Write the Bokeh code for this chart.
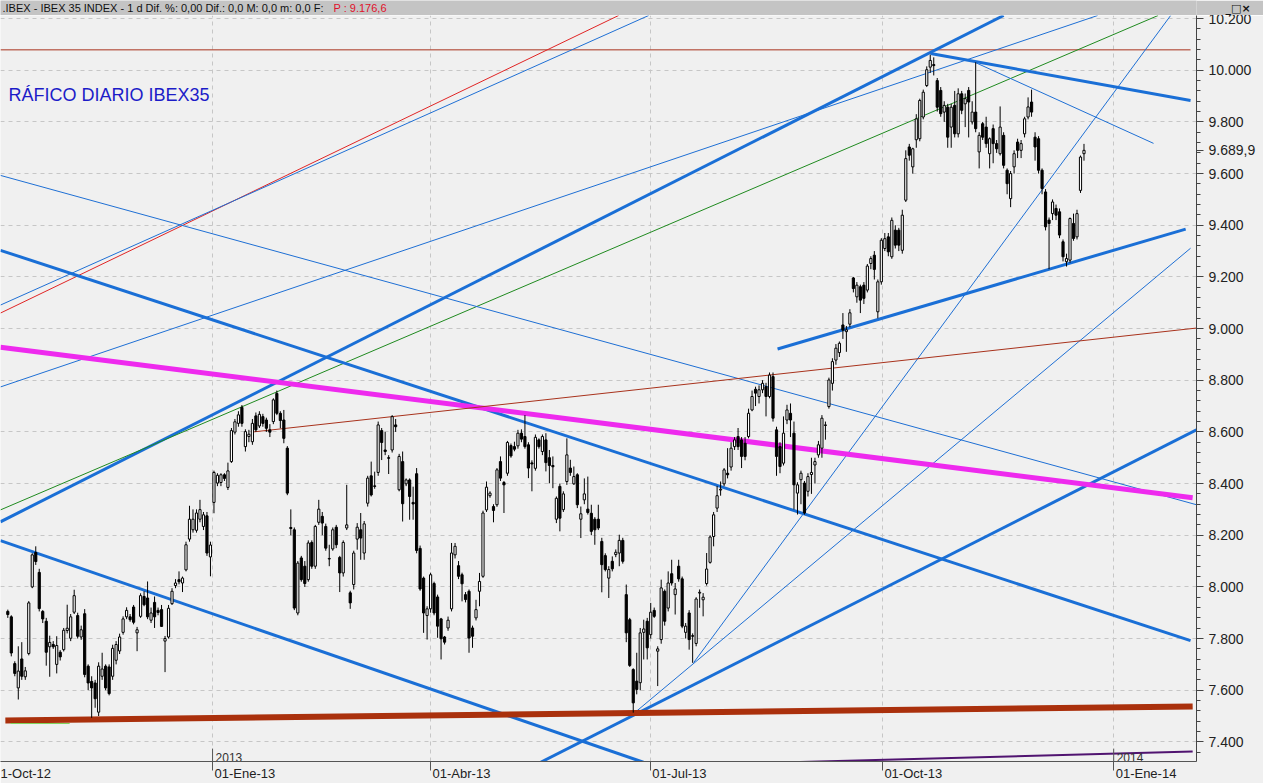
from bokeh.plotting import figure
from bokeh.models import ColumnDataSource, FixedTicker, Label, Range1d
from bokeh.layouts import column
from bokeh.embed import file_html
from bokeh.resources import INLINE
from bokeh.core.properties import value

# ---------------- data ----------------
OPEN = [
    7905, 7884, 7703, 7609, 7721, 7652, 7742, 8000, 8133, 8056, 7905, 7867, 7768, 7777, 7700, 7747, 7757, 7831, 7801, 7902,
    7889, 7806, 7896, 7693, 7634, 7628, 7515, 7654, 7693, 7690, 7654, 7716, 7752, 7824, 7884, 7884, 7922, 7822, 7886, 7963,
    7957, 7871, 7940, 7909, 7912, 7790, 7806, 7935, 8005, 8028, 8015, 8066,
    8185, 8221, 8219, 8262, 8234, 8275, 8116, 8327, 8402, 8404, 8434, 8385, 8485, 8599, 8633, 8695, 8543, 8582, 8562, 8662,
    8623, 8659, 8646, 8608, 8640, 8749, 8672, 8646, 8537, 8230, 8221, 7899, 8112, 8080, 8028, 8172, 8080, 8250, 8273, 8234,
    8108, 8147, 8231, 8114, 8054, 8228, 7977, 8009, 8185,
    8221, 8131, 8324, 8430, 8391, 8443, 8605, 8530, 8500, 8530, 8627, 8376, 8485, 8399, 8414, 8327, 8438, 8149, 8034, 7889,
    7915, 8013, 7961, 7876, 7806, 7841, 7915, 8124, 8082, 8047, 7970, 7983, 7841, 7880, 7983, 8041, 8298, 8353, 8311, 8318,
    8485, 8404, 8440, 8547, 8543, 8546, 8595, 8582, 8550, 8480, 8459, 8569, 8524, 8569, 8500, 8470,
    8262, 8389, 8299, 8408, 8460, 8399, 8434, 8262, 8337, 8301, 8285, 8262, 8262, 8176, 8121, 8034, 8099, 8125, 8131, 8180,
    7970, 7873, 7680, 7635, 7629, 7824, 7867, 7815, 7909, 7751, 7796, 7983, 7918, 8051, 7970, 8080, 8031, 7824, 7899, 7811,
    7781, 7976, 7950, 8013, 8095, 8195, 8305, 8375, 8399, 8440,
    8464, 8543, 8582, 8569, 8556, 8582, 8685, 8765, 8737, 8763, 8775, 8737, 8814, 8608, 8543, 8479, 8646, 8672, 8595, 8363,
    8415, 8402, 8370, 8435, 8472, 8511, 8537, 8625, 8698, 8788, 8878, 8907, 9014, 8988, 9017, 9196, 9123, 9162, 9168, 9149,
    9252, 9284, 9065, 9181, 9310, 9355, 9278, 9381, 9381, 9303,
    9497, 9703, 9626, 9731, 9735, 9819, 9941, 10012, 10022, 9960, 9922, 9838, 9857, 9780, 9864, 9754, 9909, 9870, 9922, 9800,
    9838, 9684, 9793, 9780, 9677, 9774, 9716, 9677, 9748, 9613, 9503, 9626, 9722, 9690, 9754, 9819, 9877, 9741, 9735, 9613,
    9529, 9420, 9445, 9465, 9452, 9336, 9259, 9265, 9407, 9355, 9535, 9677,
]
HIGH = [
    7912, 7890, 7712, 7770, 7786, 7690, 7945, 8130, 8157, 8070, 7910, 7880, 7811, 7790, 7809, 7755, 7841, 7931, 7895, 7989,
    7900, 7850, 7914, 7700, 7654, 7640, 7708, 7745, 7700, 7700, 7776, 7790, 7819, 7886, 7921, 7895, 7930, 7845, 7975, 7983,
    8021, 7920, 7963, 7920, 7930, 7810, 7930, 7995, 8030, 8060, 8040, 8175,
    8314, 8300, 8300, 8337, 8290, 8290, 8175, 8450, 8440, 8440, 8440, 8481, 8615, 8650, 8680, 8704, 8610, 8608, 8650, 8675,
    8680, 8670, 8655, 8630, 8730, 8760, 8680, 8685, 8545, 8300, 8230, 8100, 8120, 8100, 8180, 8180, 8240, 8337, 8290, 8245,
    8163, 8230, 8240, 8120, 8180, 8395, 7985, 8140, 8247,
    8286, 8255, 8430, 8485, 8446, 8640, 8615, 8600, 8510, 8665, 8650, 8515, 8524, 8420, 8420, 8388, 8460, 8160, 8040, 7925,
    8055, 8020, 7970, 7880, 7810, 7885, 8170, 8170, 8100, 8055, 7980, 7990, 7850, 7950, 8054, 8295, 8408, 8370, 8320, 8460,
    8505, 8410, 8565, 8555, 8562, 8608, 8610, 8665, 8560, 8490, 8590, 8575, 8590, 8595, 8530, 8505,
    8350, 8400, 8370, 8575, 8492, 8466, 8440, 8311, 8420, 8427, 8318, 8270, 8318, 8190, 8130, 8080, 8118, 8145, 8202, 8190,
    8009, 7880, 7685, 7745, 7841, 7873, 7880, 7938, 7920, 7770, 8028, 7990, 8060, 8105, 8015, 8105, 8040, 7860, 7910, 7820,
    7960, 7990, 7976, 8131, 8200, 8290, 8391, 8408, 8460, 8537,
    8560, 8580, 8615, 8580, 8580, 8690, 8760, 8775, 8780, 8800, 8790, 8830, 8830, 8620, 8560, 8660, 8705, 8710, 8640, 8405,
    8450, 8410, 8440, 8500, 8500, 8565, 8665, 8640, 8810, 8885, 8940, 8950, 9060, 9010, 9075, 9200, 9180, 9170, 9180, 9250,
    9280, 9300, 9190, 9350, 9370, 9370, 9430, 9400, 9390, 9460,
    9690, 9715, 9700, 9830, 9890, 9925, 10015, 10060, 10050, 9970, 9935, 9880, 9870, 9870, 9920, 9930, 9920, 9910, 9935, 9880,
    10031, 9760, 9800, 9820, 9740, 9790, 9730, 9860, 9760, 9620, 9610, 9690, 9735, 9730, 9820, 9895, 9925, 9760, 9745, 9620,
    9540, 9430, 9500, 9480, 9465, 9345, 9290, 9430, 9445, 9460, 9670, 9715,
]
LOW = [
    7880, 7731, 7654, 7564, 7640, 7640, 7735, 7995, 8085, 7905, 7860, 7695, 7652, 7760, 7665, 7715, 7750, 7820, 7790, 7895,
    7800, 7795, 7650, 7600, 7493, 7532, 7500, 7640, 7600, 7580, 7640, 7700, 7740, 7815, 7875, 7865, 7855, 7751, 7880, 7925,
    7875, 7860, 7841, 7890, 7845, 7670, 7800, 7930, 7995, 8010, 7980, 8060,
    8175, 8210, 8210, 8250, 8220, 8120, 8041, 8285, 8390, 8390, 8410, 8375, 8480, 8590, 8620, 8620, 8524, 8560, 8550, 8600,
    8615, 8620, 8600, 8580, 8630, 8665, 8614, 8556, 8355, 8200, 7910, 7890, 8020, 8000, 8020, 8070, 8070, 8240, 8200, 8140,
    8080, 8140, 8150, 7980, 8040, 8220, 7915, 7990, 8144,
    8105, 8105, 8311, 8350, 8380, 8430, 8491, 8510, 8437, 8520, 8600, 8370, 8253, 8390, 8260, 8260, 8130, 7985, 7822, 7796,
    7900, 7890, 7803, 7719, 7777, 7830, 7905, 8110, 8030, 7944, 7940, 7745, 7764, 7870, 7925, 8035, 8290, 8345, 8250, 8310,
    8410, 8286, 8430, 8500, 8525, 8535, 8560, 8535, 8421, 8370, 8450, 8535, 8510, 8447, 8401, 8382,
    8247, 8215, 8290, 8395, 8430, 8395, 8305, 8189, 8320, 8280, 8200, 8163, 8220, 7979, 8060, 7957, 8060, 8115, 8080, 8090,
    7786, 7690, 7513, 7584, 7600, 7719, 7719, 7800, 7880, 7616, 7780, 7850, 7905, 8005, 7893, 8020, 7840, 7800, 7757, 7706,
    7770, 7919, 7886, 8005, 8090, 8157, 8290, 8353, 8390, 8420,
    8450, 8530, 8530, 8460, 8490, 8575, 8680, 8700, 8710, 8750, 8660, 8730, 8640, 8430, 8440, 8470, 8630, 8580, 8300, 8280,
    8320, 8280, 8350, 8360, 8400, 8500, 8500, 8570, 8690, 8760, 8860, 8890, 8960, 8910, 9005, 9140, 9100, 9060, 9095, 9140,
    9230, 9190, 9040, 9170, 9300, 9280, 9270, 9310, 9300, 9290,
    9490, 9650, 9600, 9700, 9725, 9810, 9935, 9990, 9980, 9840, 9820, 9800, 9700, 9700, 9740, 9740, 9830, 9780, 9740, 9790,
    9760, 9620, 9730, 9700, 9620, 9640, 9680, 9670, 9620, 9520, 9470, 9600, 9660, 9660, 9740, 9810, 9820, 9650, 9600, 9520,
    9380, 9230, 9420, 9420, 9350, 9260, 9240, 9255, 9340, 9345, 9525, 9650,
]
CLOSE = [
    7893, 7744, 7665, 7674, 7654, 7675, 7938, 8124, 8098, 7916, 7876, 7747, 7785, 7768, 7773, 7729, 7832, 7840, 7884, 7966,
    7809, 7834, 7661, 7628, 7609, 7567, 7693, 7682, 7609, 7587, 7762, 7777, 7806, 7876, 7909, 7873, 7863, 7834, 7966, 7931,
    7884, 7899, 7884, 7901, 7847, 7800, 7917, 7983, 8015, 8020, 8034, 8163,
    8262, 8262, 8286, 8299, 8279, 8131, 8162, 8443, 8432, 8434, 8420, 8449, 8605, 8639, 8666, 8633, 8601, 8591, 8633, 8608,
    8668, 8633, 8614, 8599, 8724, 8672, 8644, 8575, 8363, 8226, 7918, 8092, 8028, 8013, 8170, 8080, 8234, 8301, 8247, 8150,
    8110, 8221, 8163, 8054, 8172, 8240, 7938, 8131, 8231,
    8189, 8244, 8421, 8356, 8389, 8627, 8559, 8524, 8498, 8659, 8620, 8505, 8322, 8414, 8350, 8321, 8141, 7992, 7899, 7915,
    8047, 7899, 7848, 7799, 7786, 7871, 8131, 8157, 8041, 8012, 7951, 7802, 7809, 7912, 8021, 8286, 8386, 8363, 8296, 8453,
    8421, 8395, 8559, 8507, 8533, 8595, 8572, 8543, 8460, 8476, 8579, 8543, 8582, 8481, 8470, 8465,
    8343, 8266, 8360, 8511, 8443, 8427, 8318, 8283, 8360, 8288, 8215, 8221, 8228, 8086, 8067, 8067, 8070, 8134, 8180, 8099,
    7822, 7696, 7551, 7603, 7822, 7837, 7764, 7902, 7886, 7760, 7996, 7867, 8015, 8015, 7992, 8031, 7848, 7848, 7796, 7809,
    7953, 7979, 7960, 8069, 8193, 8279, 8353, 8378, 8453, 8434,
    8537, 8569, 8543, 8505, 8505, 8672, 8737, 8750, 8763, 8788, 8737, 8820, 8653, 8505, 8466, 8595, 8685, 8646, 8395, 8395,
    8440, 8286, 8427, 8443, 8485, 8550, 8653, 8627, 8801, 8872, 8924, 8943, 8994, 8995, 9061, 9155, 9168, 9110, 9117, 9242,
    9271, 9229, 9181, 9342, 9348, 9297, 9419, 9323, 9323, 9439,
    9658, 9671, 9696, 9812, 9883, 9915, 10002, 10038, 10018, 9857, 9832, 9864, 9741, 9857, 9754, 9909, 9845, 9890, 9877, 9838,
    9774, 9748, 9741, 9716, 9735, 9716, 9696, 9780, 9632, 9561, 9600, 9677, 9690, 9716, 9812, 9858, 9838, 9703, 9613, 9542,
    9394, 9407, 9490, 9439, 9362, 9278, 9271, 9426, 9349, 9445, 9664, 9690,
]

LAST_PRICE = 9689.9
HEADER_TEXT = ".IBEX - IBEX 35 INDEX -  1 d Dif. %: 0,00 Dif.: 0,0 M: 0,0 m: 0,0 F:"
HEADER_PRICE_TEXT = "P : 9.176,6"
WINDOW_BUTTONS = "_□×"
CHART_TITLE = "RÁFICO DIARIO IBEX35"

# x positions are trading-bar numbers (bar 0 = first candle)
X_TICKS = [-4.95, 58.6, 121.0, 183.9, 250.3, 316.5]
X_TICK_LABELS = ["1-Oct-12", "01-Ene-13", "01-Abr-13", "01-Jul-13", "01-Oct-13", "01-Ene-14"]
YEAR_TICKS = [58.6, 316.5]
YEAR_LABELS = ["2013", "2014"]
Y_TICKS = [7400, 7600, 7800, 8000, 8200, 8400, 8600, 8800, 9000, 9200, 9400, 9600, 9800, 10000, 10200]
Y_TICK_LABELS = ["7.400", "7.600", "7.800", "8.000", "8.200", "8.400", "8.600", "8.800", "9.000",
                 "9.200", "9.400", "9.600", "9.800", "10.000", "10.200"]
Y_MINOR_TICKS = list(range(7320, 10241, 40))

# trend lines drawn on the chart: (bar, price) -> (bar, price)
TL_X0 = [-2.1, -2.1, -2.1, -2.1, -2.1, -2.1, 264.1, 276.9, 196.3, 178.8, 152.5, -2.1, -2.1, -2.1, -2.1, 70.3, 220.3, -0.7, 0.8, 224.0]
TL_Y0 = [10079, 9060, 9091, 8774, 8252, 8298, 10065, 10030, 7707, 7506, 7321, 9303, 8179, 9593, 8928, 8600, 8921, 7483, 7471, 7321]
TL_X1 = [338.5, 174.8, 183.4, 311.9, 285.0, 329.2, 338.5, 327.9, 332.8, 338.5, 340.2, 338.5, 181.9, 340.2, 339.1, 340.2, 337.1, 339.1, 17.7, 339.1]
TL_Y1 = [10079, 10212, 10212, 10212, 10212, 10212, 9883, 9717, 10212, 9311, 8608, 7792, 7321, 8318, 8345, 9002, 9385, 7537, 7471, 7363]
TL_COLOR = ["#a8321c", "#e02424", "#1e6fd4", "#1e6fd4", "#1a6fd6", "#1f8a1f", "#1a6fd6", "#1e6fd4", "#1e6fd4", "#1e6fd4",
            "#1a6fd6", "#1a6fd6", "#1a6fd6", "#1e6fd4", "#ee2aee", "#a8321c", "#1a6fd6", "#aa300c", "#7fd35a", "#501470"]
TL_WIDTH = [1, 1, 1, 1, 3, 1, 3, 1, 1, 1, 3, 3, 3, 1, 5, 1, 3, 6, 1, 2]

# ---------------- layout constants ----------------
X_START, X_END = -2.09, 340.2
Y_MIN, Y_MAX = 7324, 10212
W = 1263
H_HDR = 15
H_MAIN = 768
RIGHT_BORDER = 67
FRAME_W = W - RIGHT_BORDER
FONT = "Liberation Sans"
PX_PER_BAR = FRAME_W / (X_END - X_START)

# Arial-like advance widths (em) used to left-align the date labels on their ticks
_EM = {"0": .556, "1": .556, "2": .556, "3": .556, "4": .556, "-": .333, "E": .667, "n": .556, "e": .556,
       "O": .778, "c": .5, "t": .278, "A": .667, "b": .556, "r": .333, "J": .5, "u": .556, "l": .222}


def text_w(s, size):
    return sum(_EM.get(ch, .556) for ch in s) * size


XLAB_SIZE = 13
x_label_pos = []
for t, s in zip(X_TICKS, X_TICK_LABELS):
    left_px = max((t - X_START) * PX_PER_BAR + 2, 0)
    x_label_pos.append(X_START + (left_px + text_w(s, XLAB_SIZE) / 2) / PX_PER_BAR)

# ---------------- header bar ----------------
hdr = figure(width=W, height=H_HDR, x_range=(0, FRAME_W), y_range=(0, H_HDR), toolbar_location=None,
             output_backend="svg", y_axis_location="right", min_border_left=0, min_border_top=0,
             min_border_bottom=0, min_border_right=RIGHT_BORDER, background_fill_color="#c4c4c4",
             border_fill_color="#c4c4c4", outline_line_color=None)
hdr.xaxis.visible = False
hdr.grid.visible = False
hdr.yaxis.ticker = FixedTicker(ticks=[H_HDR / 2], minor_ticks=[])
hdr.yaxis.major_label_overrides = {H_HDR / 2: WINDOW_BUTTONS}
hdr.yaxis.axis_line_color = None
hdr.yaxis.major_tick_line_color = None
hdr.yaxis.minor_tick_line_color = None
hdr.yaxis.major_tick_out = 0
hdr.yaxis.major_tick_in = 0
hdr.yaxis.major_label_standoff = 29
hdr.yaxis.major_label_text_font = "DejaVu Sans"
hdr.yaxis.major_label_text_font_size = "11px"
hdr.yaxis.major_label_text_font_style = "bold"
hdr.yaxis.major_label_text_color = "#111111"
hdr.text(x=[2], y=[7.5], text=[HEADER_TEXT], text_font=value(FONT), text_font_size="11px",
         text_color="#111111", text_baseline="middle")
hdr.text(x=[333], y=[7.5], text=[HEADER_PRICE_TEXT], text_font=value(FONT), text_font_size="11px",
         text_color="#e0102a", text_baseline="middle")

# ---------------- main chart ----------------
p = figure(width=W, height=H_MAIN, x_range=Range1d(X_START, X_END), y_range=Range1d(Y_MIN, Y_MAX),
           y_axis_location="right", toolbar_location=None, output_backend="svg",
           min_border_left=0, min_border_right=RIGHT_BORDER, min_border_top=0, min_border_bottom=20,
           background_fill_color="#f0f0f0", border_fill_color="#f0f0f0", outline_line_color=None)

price_txt = f"{LAST_PRICE:,.1f}".replace(",", "#").replace(".", ",").replace("#", ".")
overrides = {t: lab for t, lab in zip(Y_TICKS, Y_TICK_LABELS)}
overrides[LAST_PRICE] = price_txt

# price axis (right), with the last price marked on it
p.yaxis.ticker = FixedTicker(ticks=Y_TICKS + [LAST_PRICE], minor_ticks=Y_MINOR_TICKS)
p.yaxis.major_label_overrides = overrides
p.yaxis.major_label_text_font = FONT
p.yaxis.major_label_text_font_size = "14px"
p.yaxis.major_label_text_color = "#222222"
p.yaxis.axis_line_color = "#444444"
p.yaxis.major_tick_line_color = "#444444"
p.yaxis.minor_tick_line_color = "#444444"
p.yaxis.major_tick_out = 7
p.yaxis.major_tick_in = 0
p.yaxis.minor_tick_out = 4
p.yaxis.minor_tick_in = 0
p.yaxis.major_label_standoff = 5

# time axis (below): short ticks at the dates, labels starting at their date tick
p.xaxis.ticker = FixedTicker(ticks=x_label_pos, minor_ticks=X_TICKS)
p.xaxis.major_label_overrides = {pos: lab for pos, lab in zip(x_label_pos, X_TICK_LABELS)}
p.xaxis.major_label_text_font = FONT
p.xaxis.major_label_text_font_size = f"{XLAB_SIZE}px"
p.xaxis.major_label_text_color = "#222222"
p.xaxis.axis_line_color = "#555555"
p.xaxis.major_tick_out = 0
p.xaxis.major_tick_in = 0
p.xaxis.minor_tick_line_color = "#555555"
p.xaxis.minor_tick_out = 9
p.xaxis.minor_tick_in = 0
p.xaxis.major_label_standoff = -5

p.xgrid.ticker = FixedTicker(ticks=X_TICKS)
p.ygrid.ticker = FixedTicker(ticks=Y_TICKS)
for g in (p.xgrid, p.ygrid):
    g.grid_line_color = "#c6c6c6"
    g.grid_line_dash = "4 4"
    g.grid_line_width = 1

# trend lines
p.segment(x0=TL_X0, y0=TL_Y0, x1=TL_X1, y1=TL_Y1, line_color=TL_COLOR, line_width=TL_WIDTH)

# candles
n = min(len(OPEN), len(HIGH), len(LOW), len(CLOSE))
src = ColumnDataSource(dict(
    x=list(range(n)), high=HIGH[:n], low=LOW[:n],
    top=[max(o, c) for o, c in zip(OPEN[:n], CLOSE[:n])],
    bottom=[min(o, c) for o, c in zip(OPEN[:n], CLOSE[:n])],
    fill=["white" if c >= o else "black" for o, c in zip(OPEN[:n], CLOSE[:n])],
))
p.segment(x0="x", y0="low", x1="x", y1="high", source=src, line_color="black", line_width=1)
p.vbar(x="x", width=0.62, top="top", bottom="bottom", source=src, fill_color="fill",
       line_color="black", line_width=1)

# year markers on the time axis
p.segment(x0=YEAR_TICKS, y0=[Y_MIN] * len(YEAR_TICKS), x1=YEAR_TICKS, y1=[Y_MIN + 50] * len(YEAR_TICKS),
          line_color="#555555", line_width=1)
p.text(x=YEAR_TICKS, y=[Y_MIN] * len(YEAR_TICKS), text=YEAR_LABELS, x_offset=3,
       text_font=value(FONT), text_font_size="12px", text_color="#333333", text_baseline="bottom")

# chart title inside the plot
p.add_layout(Label(x=0.2, y=9906, text=CHART_TITLE, text_font=FONT, text_font_size="18px",
                   text_color="#1c1cc8", text_baseline="middle", text_align="left"))

layout = column(hdr, p, spacing=0)
open("out.html", "w").write(file_html(layout, INLINE))
